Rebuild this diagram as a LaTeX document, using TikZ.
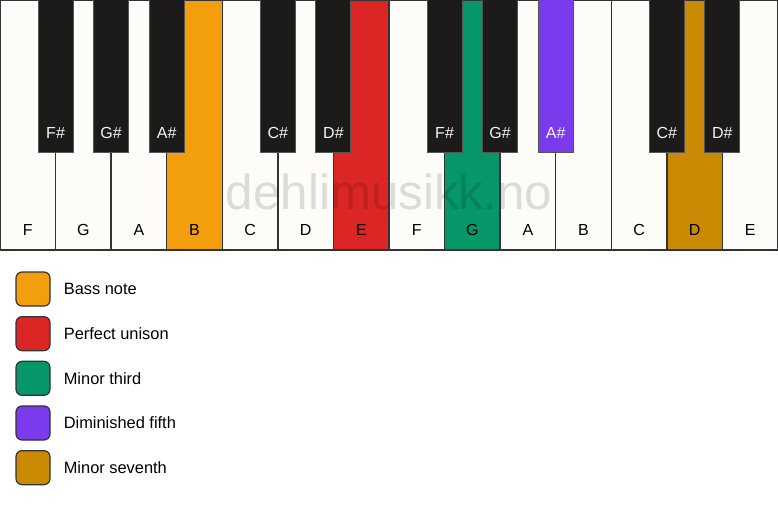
\documentclass[tikz,border=0pt]{standalone}
\usepackage{fontspec}
\setmainfont{Liberation Sans}
\usetikzlibrary{positioning}

\definecolor{keywhite}{RGB}{253,252,248}
\definecolor{keyblack}{RGB}{28,27,25}
\definecolor{keyedge}{RGB}{51,51,51}
\definecolor{bassnote}{RGB}{243,158,12}
\definecolor{unison}{RGB}{220,38,38}
\definecolor{minthird}{RGB}{5,150,105}
\definecolor{dimfifth}{RGB}{124,58,237}
\definecolor{minseventh}{RGB}{202,138,4}

\tikzset{every picture/.style={line width=0.75pt}}

\begin{document}
\begin{tikzpicture}[x=0.75pt,y=0.75pt,yscale=-1,xscale=1,
	whitekey/.style={draw=keyedge, line width=1pt},
	blackkey/.style={draw={rgb, 255:red, 85; green, 85; blue, 85}, line width=0.75pt},
	keylabel/.style={inner sep=0.75pt, font=\fontsize{12}{14}\selectfont, text=black},
	sharplabel/.style={inner sep=0.75pt, font=\fontsize{12}{14}\selectfont, text={rgb, 255:red, 245; green, 245; blue, 245}},
	legendbox/.style={draw=keyedge, line width=0.9pt, rounded corners=4.5pt, minimum size=25.5pt, inner sep=0pt, outer sep=0pt},
	legendtext/.style={inner sep=0pt, anchor=west, font=\fontsize{12.3}{14}\selectfont}]

	\useasboundingbox (0,0) rectangle (778,506);
	\fill[white] (0,0) rectangle (778,506);

	%White keys
	\foreach \n/\c [count=\i from 0] in {F/keywhite,G/keywhite,A/keywhite,B/bassnote,C/keywhite,D/keywhite,E/unison,F/keywhite,G/minthird,A/keywhite,B/keywhite,C/keywhite,D/minseventh,E/keywhite} {
		\draw[whitekey, fill=\c] (\i*55.57,0) rectangle ++(55.57,250);
		\node[keylabel] (w\i) at (\i*55.57+27.79,230) {\n};
	}

	%Black keys
	\foreach \j/\n/\c in {1/F/keyblack,2/G/keyblack,3/A/keyblack,5/C/keyblack,6/D/keyblack,8/F/keyblack,9/G/keyblack,10/A/dimfifth,12/C/keyblack,13/D/keyblack} {
		\draw[blackkey, fill=\c] (\j*55.57-17.5,0) rectangle ++(35,153);
		\node[sharplabel] (b\j) at (\j*55.57,133) {\n\#};
	}

	% Watermark
	\node[inner sep=0pt, font=\fontsize{37}{40}\selectfont, text=black, text opacity=0.13] (mark) at (389,192) {dehlimusikk.no};

	%Legend
	\node[legendbox, fill=bassnote] (sq1) at (33,289) {};
	\node[legendbox, fill=unison, below=8pt of sq1] (sq2) {};
	\node[legendbox, fill=minthird, below=8pt of sq2] (sq3) {};
	\node[legendbox, fill=dimfifth, below=8pt of sq3] (sq4) {};
	\node[legendbox, fill=minseventh, below=8pt of sq4] (sq5) {};

	% Text Node
	\node[legendtext, right=10pt of sq1] (t1) {Bass note};
	\node[legendtext, right=10pt of sq2] (t2) {Perfect unison};
	\node[legendtext, right=10pt of sq3] (t3) {Minor third};
	\node[legendtext, right=10pt of sq4] (t4) {Diminished fifth};
	\node[legendtext, right=10pt of sq5] (t5) {Minor seventh};

\end{tikzpicture}
\end{document}
